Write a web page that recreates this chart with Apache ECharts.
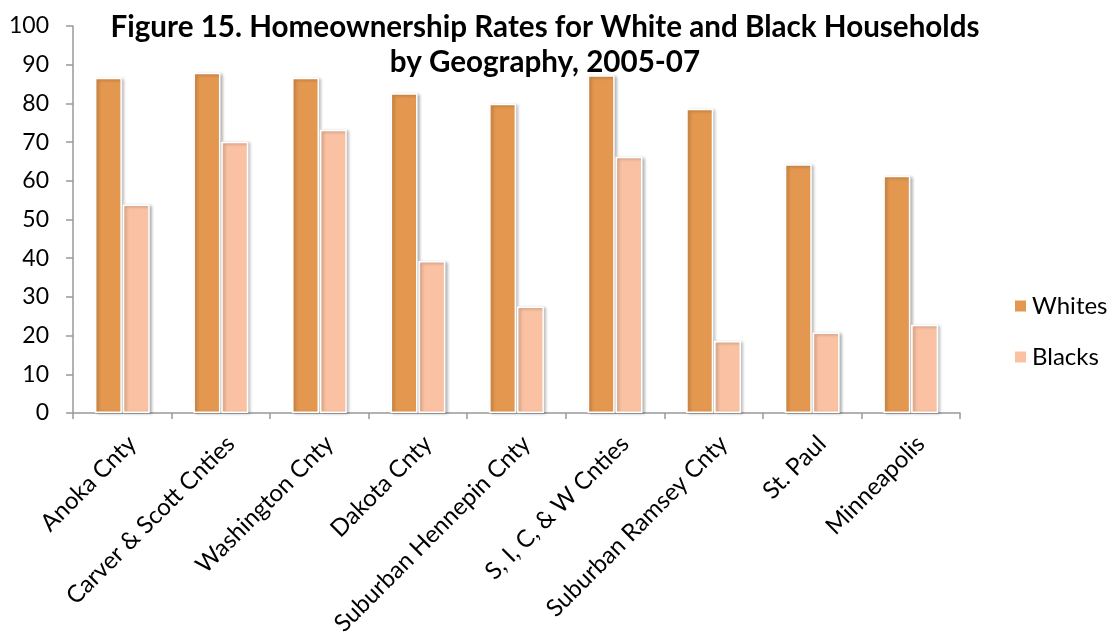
<!DOCTYPE html>
<html>
<head>
<meta charset="utf-8">
<script src="https://cdn.jsdelivr.net/npm/echarts@6/dist/echarts.min.js"></script>
<style>html,body{margin:0;padding:0;background:#fff}#c{width:1108px;height:640px}</style>
</head>
<body>
<div id="c"></div>
<script>
const categories = ["Anoka Cnty","Carver & Scott Cnties","Washington Cnty","Dakota Cnty","Suburban Hennepin Cnty","S, I, C, & W Cnties","Suburban Ramsey Cnty","St. Paul","Minneapolis"];
const whites = [86.6, 87.9, 86.6, 82.6, 79.9, 87.3, 78.6, 64.3, 61.3];
const blacks = [53.9, 70.1, 73.2, 39.3, 27.5, 66.2, 18.6, 20.8, 22.8];
const yTicks = [0,10,20,30,40,50,60,70,80,90,100];

const FONT = 'Lato';
const chart = echarts.init(document.getElementById('c'));
const barStyle = (color) => ({
  color: color,
  borderColor: '#ffffff',
  borderWidth: 1.5,
  shadowColor: 'rgba(0,0,0,0.28)',
  shadowBlur: 3,
  shadowOffsetX: 2,
  shadowOffsetY: 1
});
chart.setOption({
  animation: false,
  backgroundColor: '#ffffff',
  title: {
    text: 'Figure 15. Homeownership Rates for White and Black Households\nby Geography, 2005-07',
    left: 540, top: 5, textAlign: 'center',
    textStyle: { fontFamily: FONT, fontWeight: 'bold', fontSize: 29.6, lineHeight: 35, color: '#000' }
  },
  legend: {
    orient: 'vertical', left: 1008, top: 289,
    itemWidth: 13, itemHeight: 13, itemGap: 27,
    icon: 'rect',
    textStyle: { fontFamily: FONT, fontSize: 24, color: '#000' },
    data: ['Whites','Blacks']
  },
  grid: { left: 73, right: 148, top: 26, bottom: 227, containLabel: false, outerBoundsMode: 'none' },
  xAxis: {
    type: 'category', data: categories,
    axisLine: { lineStyle: { color: '#999', width: 1.5 } },
    axisTick: { show: true, alignWithLabel: false, length: 6, lineStyle: { color: '#999', width: 1.5 } },
    axisLabel: { rotate: 45, margin: 17, interval: 0, align: 'right', verticalAlign: 'top',
      fontFamily: FONT, fontSize: 24, lineHeight: 28, color: '#000' }
  },
  yAxis: {
    type: 'value', min: 0, max: 100, interval: 10,
    axisLine: { show: true, lineStyle: { color: '#999', width: 1.5 } },
    axisTick: { show: true, length: 7, lineStyle: { color: '#999', width: 1.5 } },
    splitLine: { show: false },
    axisLabel: { margin: 24, fontFamily: FONT, fontSize: 23, color: '#000',
      formatter: v => yTicks.includes(v) ? String(v) : '' }
  },
  series: [
    { name: 'Whites', type: 'bar', data: whites, barWidth: 27, barGap: '3%', itemStyle: barStyle('#E3974F') },
    { name: 'Blacks', type: 'bar', data: blacks, barWidth: 27, barGap: '3%', itemStyle: barStyle('#FAC2A2') }
  ]
});
</script>
</body>
</html>
